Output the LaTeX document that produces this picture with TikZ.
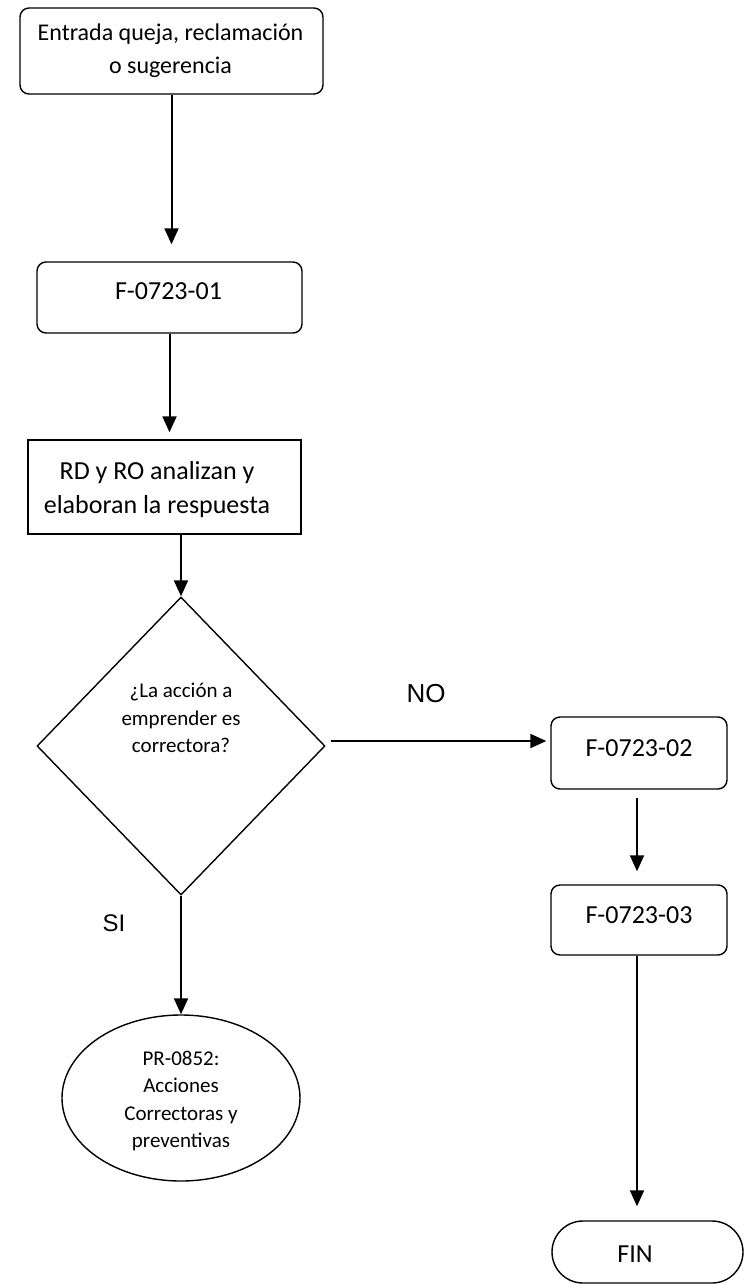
\documentclass[tikz,border=0pt]{standalone}
\usepackage{fontspec}
\setmainfont{Carlito}
\newfontfamily\arialfont{Liberation Sans}
\usetikzlibrary{shapes.geometric,arrows.meta,calc}

\tikzset{
  base/.style={draw=black, line width=1.4pt, inner sep=0pt, align=center},
  roundbox/.style={base, rounded corners=9pt},
  plainbox/.style={base},
  bigtext/.style={font=\fontsize{26}{34}\selectfont},
  toptext/.style={font=\fontsize{24}{33}\selectfont},
  smalltext/.style={font=\fontsize{21}{27.5}\selectfont, align=center},
  flow/.style={line width=2pt, -{Triangle[length=16pt,width=14pt]}},
  answer/.style={font=\arialfont\fontsize{26}{30}\selectfont}
}

\begin{document}
\begin{tikzpicture}[x=1pt, y=-1pt]
  \useasboundingbox (0,0) rectangle (745,1285);

  % process boxes
  \node[roundbox, minimum width=303pt, minimum height=86pt] (b1) at (171.5,51) {};
  \node[toptext, align=center] (t1) at (170.5,51) {Entrada queja, reclamación\\o sugerencia};

  \node[roundbox, minimum width=265pt, minimum height=71pt] (b2) at (169.5,297.5) {};
  \node[bigtext] (t2) at (168.5,291) {F-0723-01};

  \node[plainbox, minimum width=273pt, minimum height=94pt] (b3) at (164.5,487) {};
  \node[bigtext, align=center] (t3) at (157,490) {RD y RO analizan y\\elaboran la respuesta};

  % decision
  \node[base, diamond, minimum width=288pt, minimum height=298pt] (d) at (181,746) {};
  \node[smalltext] (td) at (181,718) {¿La acción a\\emprender es\\correctora?};

  % right branch
  \node[roundbox, minimum width=176pt, minimum height=72pt] (f2) at (639,753) {};
  \node[bigtext] (tf2) at (639,748) {F-0723-02};

  \node[roundbox, minimum width=176pt, minimum height=70pt] (f3) at (639,920) {};
  \node[bigtext] (tf3) at (639,915) {F-0723-03};

  \node[base, rounded corners=31pt, minimum width=191pt, minimum height=62pt] (fin) at (647.5,1252) {};
  \node[bigtext] (tfin) at (635,1254) {FIN};

  % left branch
  \node[base, ellipse, minimum width=238pt, minimum height=166pt] (e) at (181,1098) {};
  \node[smalltext] (te) at (181,1101) {PR-0852:\\Acciones\\Correctoras y\\preventivas};

  % answer labels
  \node[answer] (no) at (426,694) {NO};
  \node[answer, font=\arialfont\fontsize{24}{28}\selectfont] (si) at (114,923) {SI};

  % connectors
  \draw[flow, shorten >=17pt] (b1.south) -- (b1.south |- b2.north);
  \draw[flow, shorten >=7pt] (b2.south) -- (b2.south |- b3.north);
  \draw[flow] ([xshift=16.5pt]b3.south) -- (d.north);
  \draw[flow, shorten <=5pt, shorten >=4pt] ([yshift=5pt]d.east) -- ([yshift=5pt]d.east -| f2.west);
  \draw[flow, shorten <=8pt, shorten >=13pt] ([xshift=-2pt]f2.south) -- ([xshift=-2pt]f3.north);
  \draw[flow, shorten >=14pt] ([xshift=-2pt]f3.south) -- ([xshift=-2pt]f3.south |- fin.north);
  \draw[flow] (d.south) -- (e.north);
\end{tikzpicture}
\end{document}
